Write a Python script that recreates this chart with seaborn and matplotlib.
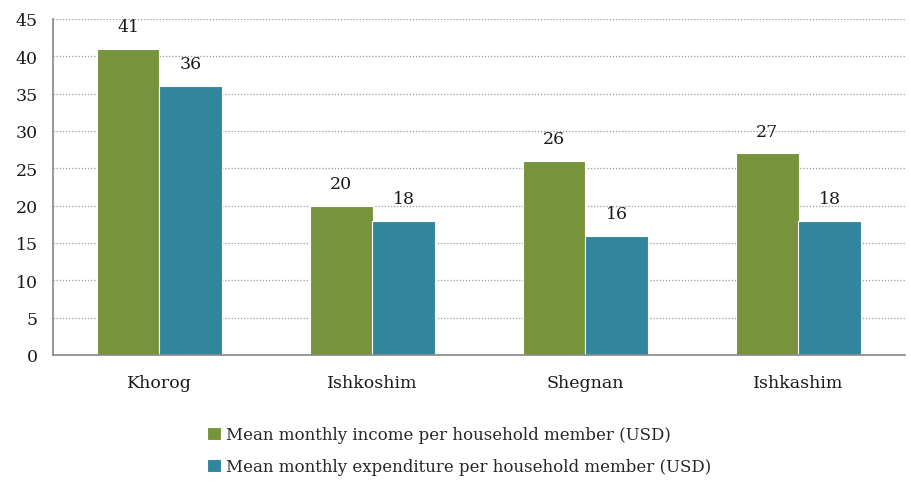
import matplotlib
matplotlib.use("Agg")
import matplotlib.pyplot as plt
import seaborn as sns
import pandas as pd
import numpy as np

categories = ["Khorog", "Ishkoshim", "Shegnan", "Ishkashim"]
income = [41, 20, 26, 27]
expenditure = [36, 18, 16, 18]
series_names = ["Mean monthly income per household member (USD)",
                "Mean monthly expenditure per household member (USD)"]
colors = ["#77933C", "#31859C"]
yticks = [0, 5, 10, 15, 20, 25, 30, 35, 40, 45]

df = pd.DataFrame({
    "cat": categories * 2,
    "val": income + expenditure,
    "series": [series_names[0]] * 4 + [series_names[1]] * 4,
})

sns.set_style("white")
plt.rcParams['font.family'] = ['DejaVu Serif']

fig = plt.figure(figsize=(9.12, 4.85), dpi=100)
ax = fig.add_axes([53/912, 1 - 356/485, (905-53)/912, (356-20)/485])

sns.barplot(data=df, x="cat", y="val", hue="series", palette=colors,
            width=0.585, gap=0, edgecolor="white", linewidth=0.8, ax=ax,
            saturation=1, errorbar=None)

for cont in ax.containers:
    labels = [f"{int(v)}" for v in cont.datavalues]
    ax.bar_label(cont, labels=labels, padding=10, fontsize=12.5, color="#1a1a1a")

ax.set_ylim(0, 45)
ax.set_xlim(-0.5, 3.5)
ax.set_yticks(yticks)
ax.set_yticklabels([str(t) for t in yticks], fontsize=12.5, color="#1a1a1a")
ax.yaxis.grid(True, linestyle=(0, (1, 1.5)), color="#999999", linewidth=0.9)
ax.set_axisbelow(True)
ax.set_xlabel("")
ax.set_ylabel("")
ax.tick_params(axis="x", length=0, labelsize=12.5, labelcolor="#1a1a1a", pad=14)
ax.set_xticks(np.arange(-0.5, 4.0, 1.0), minor=True)
ax.tick_params(axis="x", which="minor", length=5, color="#888888", width=1.2)
ax.tick_params(axis="y", length=5, color="#888888", width=1.2, pad=6)
for s in ["top", "right"]:
    ax.spines[s].set_visible(False)
for s in ["left", "bottom"]:
    ax.spines[s].set_color("#888888")
    ax.spines[s].set_linewidth(1.2)

handles, labs = ax.get_legend_handles_labels()
ax.legend(handles, labs, loc="upper center", bbox_to_anchor=(459/912, 1 - 412/485),
          bbox_transform=fig.transFigure, frameon=False, fontsize=12,
          handlelength=0.8, handleheight=0.8, handletextpad=0.3,
          labelspacing=0.9, ncol=1)

fig.savefig("out.png", dpi=100)
